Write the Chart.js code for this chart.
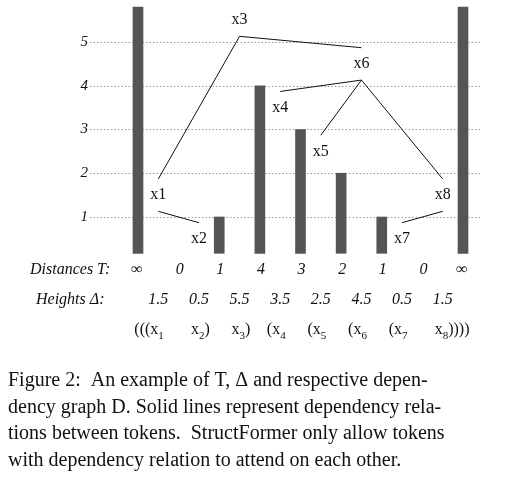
<!DOCTYPE html>
<html><head><meta charset="utf-8">
<script src="https://cdn.jsdelivr.net/npm/chart.js@4/dist/chart.umd.min.js"></script>
<style>html,body{margin:0;padding:0;background:#fff}#c{display:block}</style>
</head><body>
<div style="width:514px;height:481px"><canvas id="c"></canvas></div>
<script>
const distances = [Infinity, 0, 1, 4, 3, 2, 1, 0, Infinity];
const distanceLabels = ['∞','0','1','4','3','2','1','0','∞'];
const heights = [1.5, 0.5, 5.5, 3.5, 2.5, 4.5, 0.5, 1.5];
const tokens = ['x1','x2','x3','x4','x5','x6','x7','x8'];
const prefixes = ['(((','','','(','(','(','(',''];
const suffixes = ['',')',')','','','','','))))'];
const edges = [[0,2],[0,1],[2,5],[5,3],[5,4],[5,7],[7,6]];
const yTicks = [1,2,3,4,5];
const INF_TOP = 5.8, BAR_BASE = 0.17, OFF = 0.37;

const barData = distances.map((d,i)=>({x:i, y:[BAR_BASE, d===Infinity?INF_TOP:d]})).filter(p=>p.y[1]>0);
const edgeSets = edges.map(([a,b])=>{
  const hi = heights[a]>heights[b]?a:b, lo = hi===a?b:a;
  return {type:'line', data:[{x:hi+0.5,y:heights[hi]-OFF},{x:lo+0.5,y:heights[lo]+OFF}],
    borderColor:'#111', borderWidth:1, pointRadius:0, fill:false};
});
const SERIF = '"Liberation Serif","DejaVu Serif",serif';
const deco = {
  id:'deco',
  beforeDatasetsDraw(ch){
    const c=ch.ctx, y=ch.scales.y;
    c.save(); c.strokeStyle='#999'; c.lineWidth=1; c.setLineDash([1.5,2]);
    yTicks.forEach(t=>{const py=Math.round(y.getPixelForValue(t))+0.5;c.beginPath();c.moveTo(90,py);c.lineTo(481,py);c.stroke();});
    c.restore();
  },
  afterDatasetsDraw(ch){
    const c=ch.ctx, x=ch.scales.x, y=ch.scales.y;
    c.save(); c.fillStyle='#111'; c.textBaseline='middle';
    c.font='italic 15px '+SERIF; c.textAlign='right';
    yTicks.forEach(t=>c.fillText(String(t),88,y.getPixelForValue(t)));
    c.font='16px '+SERIF; c.textAlign='center';
    tokens.forEach((t,i)=>c.fillText(t,x.getPixelForValue(i+0.5),y.getPixelForValue(heights[i])));
    c.font='italic 16px '+SERIF; c.textAlign='left';
    c.fillText('Distances T:',30,270);
    c.fillText('Heights Δ:',36,300);
    distanceLabels.forEach((t,i)=>c.fillText(t,x.getPixelForValue(i)-(t==='∞'?7:3),270));
    heights.forEach((h,i)=>{c.textAlign='center';c.fillText(String(h),x.getPixelForValue(i+0.5),300);});
    c.font='16px '+SERIF;
    tokens.forEach((t,i)=>{
      const cx=x.getPixelForValue(i+0.5);
      c.textAlign='right'; c.fillText(prefixes[i]+'x',cx,330);
      c.textAlign='left'; c.font='11px '+SERIF; c.fillText(t.slice(1),cx,336);
      const w=c.measureText(t.slice(1)).width; c.font='16px '+SERIF;
      c.fillText(suffixes[i],cx+w,330);
    });
    c.font='20px '+SERIF; c.textAlign='left'; c.textBaseline='alphabetic';
    const lines=['Figure 2:  An example of T, Δ and respective depen-','dency graph D. Solid lines represent dependency rela-','tions between tokens.  StructFormer only allow tokens','with dependency relation to attend on each other.'];
    lines.forEach((l,i)=>c.fillText(l,8,386+i*26.5,500));
    c.restore();
  }
};
new Chart(document.getElementById('c'),{
  type:'bar',
  data:{datasets:[{type:'bar',data:barData,backgroundColor:'#555',barThickness:10,borderWidth:0}, ...edgeSets]},
  options:{responsive:true,maintainAspectRatio:false,animation:false,
    layout:{padding:0},
    plugins:{legend:{display:false},tooltip:{enabled:false}},
    scales:{
      x:{type:'linear',offset:false,min:-138/40.625,max:(514-138)/40.625,display:false},
      y:{type:'linear',min:(260.75-481)/43.75,max:260.75/43.75,display:false}
    }},
  plugins:[deco]
});
</script></body></html>
